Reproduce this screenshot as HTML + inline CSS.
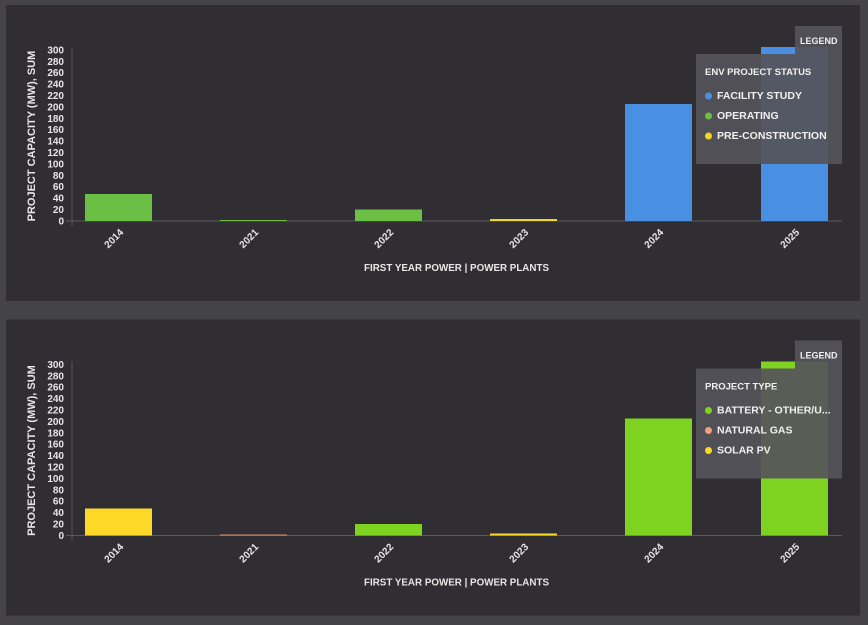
<!DOCTYPE html>
<html><head><meta charset="utf-8"><style>
html,body{margin:0;padding:0;background:#444347;}
svg{display:block;font-family:"Liberation Sans",sans-serif;}
</style></head><body>
<svg width="868" height="625" viewBox="0 0 868 625">
<rect width="868" height="625" fill="#444347"/>
<defs>
<g id="axes">
<rect x="6" y="5" width="854" height="296" fill="#302e33"/>
<line x1="72" y1="47" x2="72" y2="226" stroke="#555" stroke-width="1"/>
<line x1="66" y1="221" x2="842" y2="221" stroke="#5a5a5e" stroke-width="1"/>
<g font-size="10" font-weight="bold" fill="#e6e6e6" text-anchor="end">
<text x="64" y="224.5">0</text><text x="64" y="213">20</text><text x="64" y="201.6">40</text>
<text x="64" y="190.2">60</text><text x="64" y="178.8">80</text><text x="64" y="167.4">100</text>
<text x="64" y="156">120</text><text x="64" y="144.6">140</text><text x="64" y="133.2">160</text>
<text x="64" y="121.8">180</text><text x="64" y="110.4">200</text><text x="64" y="99">220</text>
<text x="64" y="87.6">240</text><text x="64" y="76.2">260</text><text x="64" y="64.8">280</text>
<text x="64" y="53.4">300</text>
</g>
<text transform="translate(35,136) rotate(-90)" font-size="11" font-weight="bold" fill="#e6e6e6" text-anchor="middle">PROJECT CAPACITY (MW), SUM</text>
<g font-size="10" font-weight="bold" fill="#e6e6e6" text-anchor="end">
<text transform="translate(124,233) rotate(-45)">2014</text>
<text transform="translate(259,233) rotate(-45)">2021</text>
<text transform="translate(394,233) rotate(-45)">2022</text>
<text transform="translate(529,233) rotate(-45)">2023</text>
<text transform="translate(664,233) rotate(-45)">2024</text>
<text transform="translate(800,233) rotate(-45)">2025</text>
</g>
<text x="364" y="271" font-size="10.5" font-weight="bold" fill="#e6e6e6" textLength="185" lengthAdjust="spacingAndGlyphs">FIRST YEAR POWER | POWER PLANTS</text>
</g>
</defs>

<use href="#axes"/>
<rect x="85" y="194" width="67" height="27" fill="#6cbf45"/>
<rect x="220" y="220" width="67" height="1" fill="#6cbf45"/>
<rect x="355" y="209.5" width="67" height="11.5" fill="#6cbf45"/>
<rect x="490" y="219" width="67" height="2" fill="#ecd81f"/>
<rect x="625" y="104" width="67" height="117" fill="#4a90e2"/>
<rect x="761" y="47" width="67" height="174" fill="#4a90e2"/>
<rect x="795" y="26" width="47" height="138" fill="#55545a" opacity="0.92"/>
<rect x="696" y="54" width="99" height="110" fill="#55545a" opacity="0.92"/>
<text x="800" y="44" font-size="9" font-weight="bold" fill="#f0f0f0">LEGEND</text>
<text x="705" y="75" font-size="9.5" font-weight="bold" fill="#f0f0f0">ENV PROJECT STATUS</text>
<circle cx="708.5" cy="96" r="3.5" fill="#4a90e2"/><text x="717" y="99" font-size="10.5" font-weight="bold" fill="#f0f0f0">FACILITY STUDY</text>
<circle cx="708.5" cy="116" r="3.5" fill="#6cbf45"/><text x="717" y="119" font-size="10.5" font-weight="bold" fill="#f0f0f0">OPERATING</text>
<circle cx="708.5" cy="136" r="3.5" fill="#ecd81f"/><text x="717" y="139" font-size="10.5" font-weight="bold" fill="#f0f0f0">PRE-CONSTRUCTION</text>

<g transform="translate(0,314.5)">
<use href="#axes"/>
<rect x="85" y="194" width="67" height="27" fill="#fdd827"/>
<rect x="220" y="220" width="67" height="1" fill="#e0906a"/>
<rect x="355" y="209.5" width="67" height="11.5" fill="#7ed321"/>
<rect x="490" y="219" width="67" height="2" fill="#fdd827"/>
<rect x="625" y="104" width="67" height="117" fill="#7ed321"/>
<rect x="761" y="47" width="67" height="174" fill="#7ed321"/>
<rect x="795" y="26" width="47" height="138" fill="#55545a" opacity="0.92"/>
<rect x="696" y="54" width="99" height="110" fill="#55545a" opacity="0.92"/>
<text x="800" y="44" font-size="9" font-weight="bold" fill="#f0f0f0">LEGEND</text>
<text x="705" y="75" font-size="9.5" font-weight="bold" fill="#f0f0f0">PROJECT TYPE</text>
<circle cx="708.5" cy="96" r="3.5" fill="#7ed321"/><text x="717" y="99" font-size="10.5" font-weight="bold" fill="#f0f0f0">BATTERY - OTHER/U...</text>
<circle cx="708.5" cy="116" r="3.5" fill="#f0a07a"/><text x="717" y="119" font-size="10.5" font-weight="bold" fill="#f0f0f0">NATURAL GAS</text>
<circle cx="708.5" cy="136" r="3.5" fill="#fdd827"/><text x="717" y="139" font-size="10.5" font-weight="bold" fill="#f0f0f0">SOLAR PV</text>
</g>
</svg>
</body></html>
